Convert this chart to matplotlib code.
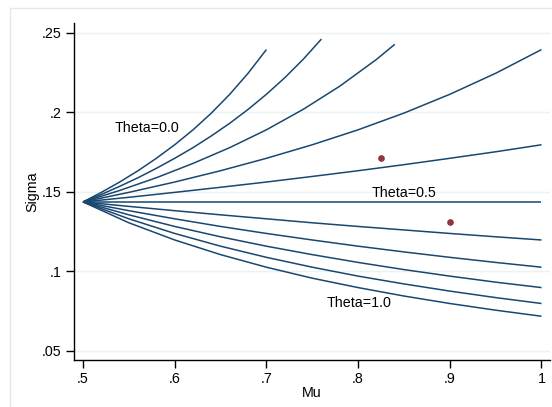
import numpy as np
import matplotlib.pyplot as plt
from matplotlib.patches import Rectangle

plt.rcParams['font.family'] = ['Liberation Sans', 'DejaVu Sans']

# sigma against mu, one curve per theta
mu_grid = [0.50, 0.55, 0.60, 0.65, 0.70, 0.75, 0.80, 0.85, 0.90, 0.95, 1.00]

mu_t00 = [0.50, 0.52, 0.54, 0.56, 0.58, 0.60, 0.62, 0.64, 0.66, 0.68, 0.70]
sig_t00 = [0.1436, 0.1496, 0.1561, 0.1632, 0.1710, 0.1795, 0.1889, 0.1994, 0.2112, 0.2244, 0.2393]
mu_t01 = [0.50, 0.52, 0.54, 0.56, 0.58, 0.60, 0.62, 0.64, 0.66, 0.68, 0.70, 0.72, 0.74, 0.76]
sig_t01 = [0.1436, 0.1483, 0.1534, 0.1588, 0.1647, 0.1710, 0.1777, 0.1851, 0.1930, 0.2017,
           0.2112, 0.2216, 0.2331, 0.2459]
mu_t02 = [0.50, 0.54, 0.58, 0.62, 0.66, 0.70, 0.74, 0.78, 0.82, 0.84]
sig_t02 = [0.1436, 0.1508, 0.1588, 0.1678, 0.1777, 0.1889, 0.2017, 0.2163, 0.2331, 0.2426]
sig_t03 = [0.1436, 0.1496, 0.1561, 0.1632, 0.1710, 0.1795, 0.1889, 0.1994, 0.2112, 0.2244, 0.2393]
sig_t04 = [0.1436, 0.1465, 0.1496, 0.1528, 0.1561, 0.1596, 0.1632, 0.1670, 0.1710, 0.1751, 0.1795]
sig_t05 = [0.1436] * 11
sig_t06 = [0.1436, 0.1408, 0.1381, 0.1355, 0.1330, 0.1305, 0.1282, 0.1260, 0.1238, 0.1217, 0.1197]
sig_t07 = [0.1436, 0.1381, 0.1330, 0.1282, 0.1238, 0.1197, 0.1158, 0.1122, 0.1088, 0.1056, 0.1026]
sig_t08 = [0.1436, 0.1355, 0.1282, 0.1217, 0.1158, 0.1105, 0.1056, 0.1011, 0.0970, 0.0932, 0.0898]
sig_t09 = [0.1436, 0.1330, 0.1238, 0.1158, 0.1088, 0.1026, 0.0970, 0.0921, 0.0876, 0.0835, 0.0798]
sig_t10 = [0.1436, 0.1305, 0.1197, 0.1105, 0.1026, 0.0957, 0.0898, 0.0845, 0.0798, 0.0756, 0.0718]

# the two observed points
pt_mu = [0.825, 0.90]
pt_sig = [0.171, 0.131]

curves = [(mu_t00, sig_t00), (mu_t01, sig_t01), (mu_t02, sig_t02),
          (mu_grid, sig_t03), (mu_grid, sig_t04), (mu_grid, sig_t05),
          (mu_grid, sig_t06), (mu_grid, sig_t07), (mu_grid, sig_t08),
          (mu_grid, sig_t09), (mu_grid, sig_t10)]

navy = '#1a476f'
fs = 10.3
fig = plt.figure(figsize=(5.52, 4.07), dpi=100)
ax = fig.add_axes([74.3 / 552, 1 - 359.7 / 407, (550 - 74.3) / 552, (359.7 - 23.3) / 407])

# light frame around the graph region
fig.patches.append(Rectangle((10 / 552, -0.05), 1.1, 1 - 8 / 407 + 0.05, transform=fig.transFigure,
                             fill=False, edgecolor='#e3eaec', linewidth=1))

yticks = [0.05, 0.1, 0.15, 0.2, 0.25]
for yv in yticks:
    ax.axhline(yv, color='#eaf2f3', linewidth=1, zorder=0)

for m, s in curves:
    ax.plot(m, s, color=navy, linewidth=1.1, solid_capstyle='butt')

ax.plot(pt_mu, pt_sig, 'o', color='#90353b', markersize=3.8, linestyle='none')

ax.text(0.535, 0.1902, 'Theta=0.0', fontsize=fs, ha='left', va='center')
ax.text(0.815, 0.1494, 'Theta=0.5', fontsize=fs, ha='left', va='center')
ax.text(0.7657, 0.0799, 'Theta=1.0', fontsize=fs, ha='left', va='center')

ax.set_xlim(0.49051, 1.00927)
ax.set_ylim(0.0445, 0.2558)
ax.set_xticks([0.5, 0.6, 0.7, 0.8, 0.9, 1.0])
ax.set_xticklabels(['.5', '.6', '.7', '.8', '.9', '1'])
ax.set_yticks(yticks)
ax.set_yticklabels(['.05', '.1', '.15', '.2', '.25'])
ax.tick_params(direction='out', length=6, width=1, labelsize=fs, pad=3)
ax.set_xlabel('Mu', fontsize=fs, labelpad=0)
ax.set_ylabel('Sigma', fontsize=fs, labelpad=2)
for side in ['top', 'right']:
    ax.spines[side].set_visible(False)
for side in ['left', 'bottom']:
    ax.spines[side].set_linewidth(1)

fig.savefig('out.png', dpi=100)
